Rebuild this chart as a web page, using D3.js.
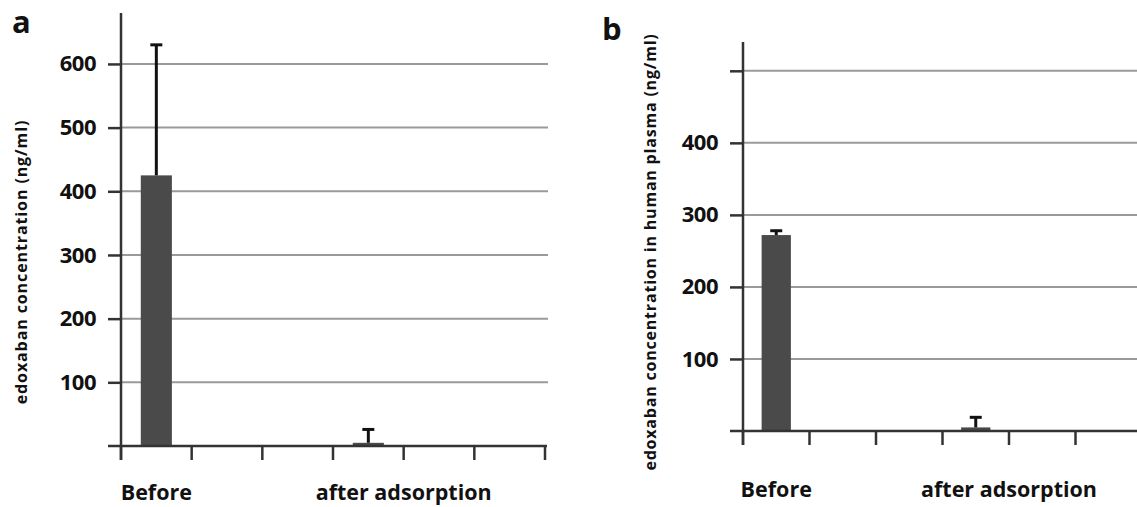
<!DOCTYPE html>
<html>
<head>
<meta charset="utf-8">
<script src="https://cdn.jsdelivr.net/npm/d3@7/dist/d3.min.js"></script>
<style>
  body { margin: 0; background: #fff; }
  svg { display: block; }
  text { font-family: "Open Sans", Lato, sans-serif; fill: #111; }
</style>
</head>
<body>
<div id="chart"></div>
<script>
// six category slots on the x axis, only two of them carry a bar
const slots = ['s1', 's2', 's3', 's4', 's5', 's6'];
const groups = ['Before', 'after adsorption'];
const groupSlot = ['s1', 's4'];

// panel a: edoxaban concentration (ng/ml)
const meanA = [425, 5];
const sdA = [205, 21];
const ticksA = [100, 200, 300, 400, 500, 600];

// panel b: edoxaban concentration in human plasma (ng/ml)
const meanB = [272, 5];
const sdB = [6, 14];
const ticksB = [100, 200, 300, 400, 500];
const tickLabelsB = ['100', '200', '300', '400', ''];

const width = 1137, height = 507;

const svg = d3.select('#chart')
    .append('svg')
    .attr('width', width)
    .attr('height', height);

function drawPanel(cfg) {
    const g = svg.append('g');

    const x = d3.scaleBand()
        .domain(slots)
        .range([cfg.left, cfg.right])
        .padding(0);

    const y = d3.scaleLinear()
        .domain([0, cfg.yMax])
        .range([cfg.bottom, cfg.top]);

    // horizontal gridlines
    g.selectAll('.grid')
        .data(cfg.ticks)
        .join('line')
        .attr('class', 'grid')
        .attr('x1', cfg.left)
        .attr('x2', cfg.gridEnd)
        .attr('y1', d => y(d))
        .attr('y2', d => y(d))
        .attr('stroke', '#9a9a9a')
        .attr('stroke-width', 2);

    // y axis
    const yAxis = d3.axisLeft(y)
        .tickValues(cfg.ticks)
        .tickSize(13)
        .tickPadding(12)
        .tickFormat((d, i) => cfg.tickLabels[i]);
    const ya = g.append('g')
        .attr('transform', `translate(${cfg.left},0)`)
        .call(yAxis);
    ya.select('.domain').remove();
    ya.selectAll('.tick line').attr('stroke', '#333').attr('stroke-width', 2.5);
    ya.selectAll('.tick text')
        .attr('font-size', 22)
        .attr('font-weight', 700)
        .attr('font-family', '"Open Sans", sans-serif')
        .attr('letter-spacing', -0.5)
        .attr('fill', '#111');

    // bars
    const bw = x.bandwidth() * 0.44;
    g.selectAll('.bar')
        .data(cfg.mean)
        .join('rect')
        .attr('class', 'bar')
        .attr('x', (d, i) => x(groupSlot[i]) + (x.bandwidth() - bw) / 2)
        .attr('y', d => y(d))
        .attr('width', bw)
        .attr('height', d => y(0) - y(d))
        .attr('fill', '#4a4a4a');

    // upper error bars
    const cx = i => x(groupSlot[i]) + x.bandwidth() / 2;
    const err = g.selectAll('.err')
        .data(cfg.mean)
        .join('g')
        .attr('class', 'err');
    err.append('line')
        .attr('x1', (d, i) => cx(i))
        .attr('x2', (d, i) => cx(i))
        .attr('y1', d => y(d))
        .attr('y2', (d, i) => y(d + cfg.sd[i]))
        .attr('stroke', '#111')
        .attr('stroke-width', 3);
    err.append('line')
        .attr('x1', (d, i) => cx(i) - 6)
        .attr('x2', (d, i) => cx(i) + 6)
        .attr('y1', (d, i) => y(d + cfg.sd[i]))
        .attr('y2', (d, i) => y(d + cfg.sd[i]))
        .attr('stroke', '#111')
        .attr('stroke-width', 3);

    // axis lines
    g.append('line')
        .attr('x1', cfg.left).attr('x2', cfg.left)
        .attr('y1', cfg.top).attr('y2', cfg.bottom + 14)
        .attr('stroke', '#333').attr('stroke-width', 2.5);
    g.append('line')
        .attr('x1', cfg.left - 13).attr('x2', cfg.axisEnd)
        .attr('y1', cfg.bottom).attr('y2', cfg.bottom)
        .attr('stroke', '#333').attr('stroke-width', 2.5);

    // x tick marks at band boundaries
    const bounds = slots.map(s => x(s)).concat([cfg.right]);
    g.selectAll('.xtick')
        .data(bounds)
        .join('line')
        .attr('class', 'xtick')
        .attr('x1', d => d).attr('x2', d => d)
        .attr('y1', cfg.bottom).attr('y2', cfg.bottom + 14)
        .attr('stroke', '#333').attr('stroke-width', 2.5);

    // category labels
    g.selectAll('.cat')
        .data(groups)
        .join('text')
        .attr('class', 'cat')
        .attr('x', (d, i) => i === 0 ? cx(i) : x(groupSlot[i]) + x.bandwidth())
        .attr('y', cfg.labelY)
        .attr('text-anchor', 'middle')
        .attr('font-size', 21.5)
        .attr('font-weight', 700)
        .text(d => d);

    // y axis title
    g.append('text')
        .attr('transform', `translate(${cfg.titleX},${cfg.titleY}) rotate(-90)`)
        .attr('text-anchor', 'middle')
        .attr('font-size', 16)
        .attr('font-weight', 700)
        .attr('letter-spacing', cfg.titleSpacing)
        .text(cfg.title);

    // panel letter
    svg.append('text')
        .attr('x', cfg.letterX)
        .attr('y', cfg.letterY)
        .attr('font-size', 31)
        .attr('font-weight', 700)
        .attr('font-family', 'Arial, "Liberation Sans", sans-serif')
        .text(cfg.letter);
}

drawPanel({
    letter: 'a', letterX: 12, letterY: 33,
    left: 121, right: 545, top: 13, bottom: 446, yMax: 680,
    gridEnd: 548, axisEnd: 547,
    mean: meanA, sd: sdA,
    ticks: ticksA, tickLabels: ticksA.map(String),
    labelY: 500,
    title: 'edoxaban concentration (ng/ml)', titleX: 27, titleY: 262, titleSpacing: 0.9
});

drawPanel({
    letter: 'b', letterX: 602, letterY: 40,
    left: 743, right: 1142, top: 42, bottom: 431, yMax: 540,
    gridEnd: 1137, axisEnd: 1137,
    mean: meanB, sd: sdB,
    ticks: ticksB, tickLabels: tickLabelsB,
    labelY: 497,
    title: 'edoxaban concentration in human plasma (ng/ml)', titleX: 656, titleY: 252, titleSpacing: 0.8
});
</script>
</body>
</html>
